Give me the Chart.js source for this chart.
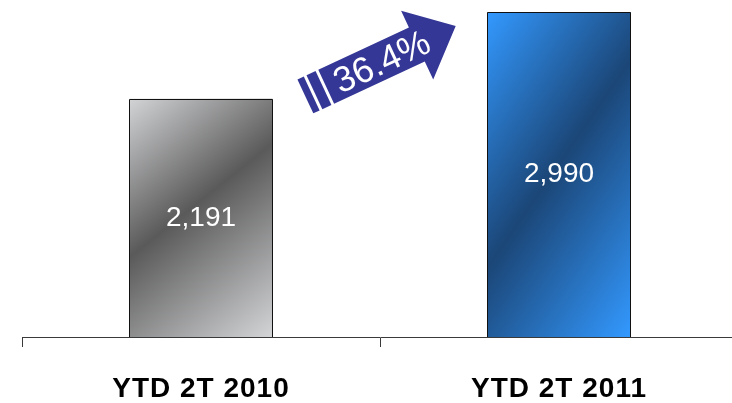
<!DOCTYPE html>
<html>
<head>
<meta charset="utf-8">
<script src="https://cdn.jsdelivr.net/npm/chart.js@4/dist/chart.umd.min.js"></script>
<style>
html,body{margin:0;padding:0;background:#fff;overflow:hidden;width:732px;height:403px}
#wrap{position:relative;width:740px;height:403px}
canvas{display:block}
</style>
</head>
<body>
<div id="wrap"><canvas id="c" width="740" height="403"></canvas></div>
<script>
// ---- data ----
const categories = ['YTD 2T 2010', 'YTD 2T 2011'];
const values = [2191, 2990];
const valueLabels = ['2,191', '2,990'];
const growthLabel = '36.4%';

// ---- styles ----
const FONT = '"Liberation Sans", Arial, sans-serif';
const barGradients = [
  { angle: 51.5, stops: [[0, '#d3d4d6'], [0.45, '#5a5a5a'], [1, '#d4d5d7']] },
  { angle: 34.6, stops: [[0, '#3399ff'], [0.48, '#1b4677'], [1, '#3399ff']] }
];

function barFill(ctx) {
  const chart = ctx.chart;
  const i = ctx.dataIndex;
  const g = barGradients[i];
  const sx = chart.scales.x, sy = chart.scales.y;
  if (!chart.chartArea || !sx || !sy || sx.width === undefined) return g.stops[1][1];
  const cx = sx.getPixelForValue(i);
  const half = (sx.width / categories.length) * 0.4 / 2;
  const left = cx - half, right = cx + half;
  const top = sy.getPixelForValue(values[i]);
  const bottom = sy.getPixelForValue(0);
  const a = g.angle * Math.PI / 180;
  const dx = Math.cos(a), dy = Math.sin(a);
  const len = (right - left) * dx + (bottom - top) * dy;
  const grad = chart.ctx.createLinearGradient(left, top, left + dx * len, top + dy * len);
  g.stops.forEach(s => grad.addColorStop(s[0], s[1]));
  return grad;
}

const spacingPlugin = {
  id: 'spacing',
  beforeDraw(chart) { chart.ctx.letterSpacing = '1px'; },
  afterDraw(chart) { chart.ctx.letterSpacing = '0px'; }
};

const valueLabelPlugin = {
  id: 'valueLabels',
  afterDatasetsDraw(chart) {
    const c = chart.ctx;
    const meta = chart.getDatasetMeta(0);
    c.save();
    c.letterSpacing = '0px';
    // crisp bar outlines
    c.strokeStyle = '#111111';
    c.lineWidth = 1;
    meta.data.forEach((el) => {
      const l = Math.round(el.x - el.width / 2) + 0.5;
      const r = Math.round(el.x + el.width / 2) - 0.5;
      const t = Math.round(el.y) + 0.5;
      const b = Math.round(el.base);
      c.beginPath();
      c.moveTo(l, b); c.lineTo(l, t); c.lineTo(r, t); c.lineTo(r, b);
      c.stroke();
    });
    c.font = '28px ' + FONT;
    c.fillStyle = '#ffffff';
    c.textAlign = 'center';
    c.textBaseline = 'middle';
    meta.data.forEach((el, i) => {
      c.fillText(valueLabels[i], el.x, (el.y + el.base) / 2);
    });
    c.restore();
  }
};

const arrowPlugin = {
  id: 'growthArrow',
  afterDraw(chart) {
    const c = chart.ctx;
    c.save();
    c.letterSpacing = '0px';
    c.translate(455.7, 26);
    c.rotate(-25 * Math.PI / 180);
    c.fillStyle = '#343795';
    c.beginPath();
    c.moveTo(0, 0);
    c.lineTo(-43, -37);
    c.lineTo(-43, -18.5);
    c.lineTo(-143, -18.5);
    c.lineTo(-143, 19);
    c.lineTo(-43, 19);
    c.lineTo(-43, 39);
    c.closePath();
    c.fill();
    c.fillRect(-166, -18.5, 7, 37.5);
    c.fillRect(-156, -18.5, 10, 37.5);
    c.font = '36px ' + FONT;
    c.fillStyle = '#ffffff';
    c.textAlign = 'center';
    c.textBaseline = 'middle';
    c.fillText(growthLabel, -82, 3);
    c.restore();
  }
};

new Chart(document.getElementById('c'), {
  type: 'bar',
  data: {
    labels: categories,
    datasets: [{
      data: values,
      backgroundColor: barFill,
      borderWidth: 0,
      barPercentage: 0.4,
      categoryPercentage: 1.0
    }]
  },
  options: {
    responsive: false,
    devicePixelRatio: 1,
    animation: false,
    layout: { padding: { left: 22, right: 2, top: 0, bottom: 0 } },
    plugins: { legend: { display: false }, tooltip: { enabled: false } },
    scales: {
      x: {
        offset: true,
        grid: { offset: true, drawOnChartArea: false, drawTicks: true, tickLength: 10, color: '#3a3a3a', lineWidth: 1 },
        border: { display: true, color: '#3a3a3a', width: 1 },
        ticks: { color: '#000', padding: 28, font: { family: FONT, size: 28, weight: 'bold', lineHeight: 1.0 }, maxRotation: 0 },
        afterFit(scale) { scale.height = 66; }
      },
      y: { display: false, min: 0, max: 3100 }
    }
  },
  plugins: [spacingPlugin, valueLabelPlugin, arrowPlugin]
});
</script>
</body>
</html>
